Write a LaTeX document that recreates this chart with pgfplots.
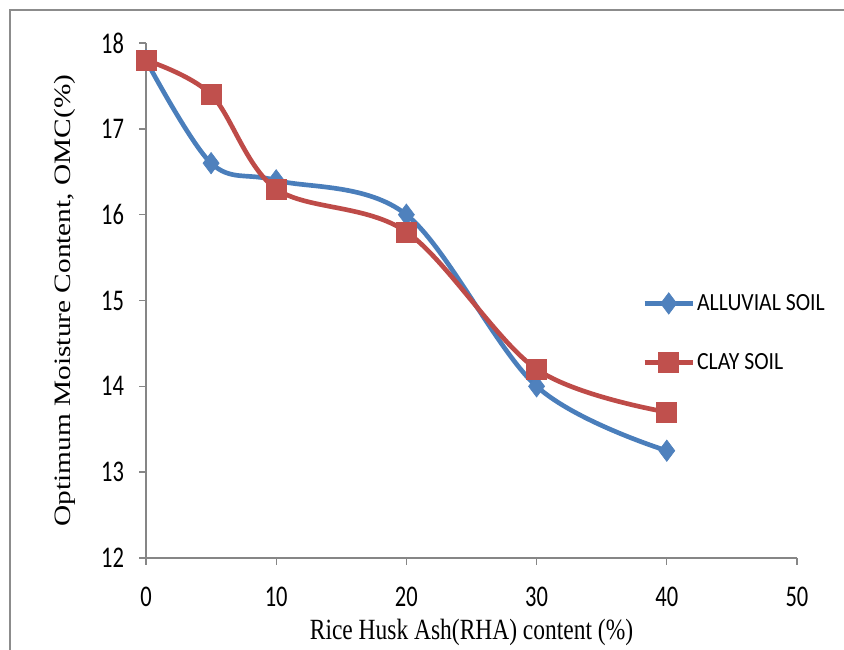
\documentclass[border=0pt]{standalone}
\usepackage{pgfplots}
\pgfplotsset{compat=1.18}
\usepackage{fontspec}
\setmainfont{Liberation Serif}
\newfontfamily\calfont{Carlito}
\newcommand{\sq}[1]{\scalebox{0.8}[1]{#1}}
\newcommand{\tq}[1]{\scalebox{0.75}[1]{#1}}
\definecolor{axgray}{HTML}{868686}
\definecolor{frgray}{HTML}{8C8C8C}
\definecolor{bline}{HTML}{4A7EBB}
\definecolor{bfill}{HTML}{4F81BD}
\definecolor{rline}{HTML}{BE4B48}
\definecolor{rfill}{HTML}{C0504D}
\begin{document}
\begin{tikzpicture}
\useasboundingbox (-109.5pt,-69pt) rectangle (523.5pt,418.5pt);
\begin{scope}
\clip (-109.5pt,-69pt) rectangle (523.5pt,418.5pt);
\draw[frgray, line width=2pt] (-102pt,-80pt) -- (-102pt,411pt) -- (540pt,411pt);
\end{scope}
\begin{axis}[
  at={(0pt,0pt)}, anchor=south west,
  scale only axis,
  width=488.25pt, height=386.25pt,
  xmin=0, xmax=50, ymin=12, ymax=18,
  xtick={0,10,20,30,40,50},
  ytick={12,13,14,15,16,17,18},
  axis lines=left,
  axis line style={axgray, line width=1pt, -},
  tick align=outside,
  major tick length=5pt,
  tick style={axgray, line width=1pt},
  /pgf/number format/assume math mode=true,
  xticklabel={\tq{\calfont\fontsize{22.5}{27}\selectfont\pgfmathprintnumber{\tick}}},
  yticklabel={\tq{\calfont\fontsize{22.5}{27}\selectfont\pgfmathprintnumber{\tick}}},
  xticklabel style={yshift=-13pt},
  yticklabel style={xshift=-8pt},
  xlabel={\sq{\fontsize{22}{26}\selectfont Rice Husk Ash(RHA) content (\%)}},
  ylabel={\scalebox{1}[0.8]{\fontsize{22}{26}\selectfont Optimum Moisture Content, OMC(\%)}},
  xlabel style={at={(axis description cs:0.5,0)}, anchor=center, yshift=-56pt},
  ylabel style={at={(axis description cs:0,0.5)}, anchor=center, yshift=61pt},
  legend style={draw=none, fill=none, at={(axis cs:38.1,14.62)}, anchor=west,
    inner sep=0pt, row sep=28pt, font=\calfont\fontsize{18.5}{22}\selectfont,
    nodes={inner sep=1.5pt}},
  legend cell align=left,
  legend image code/.code={\draw[mark repeat=2,mark phase=2,#1] plot coordinates {(0cm,0cm) (0.635cm,0cm) (1.27cm,0cm)};},
  clip=false,
]
\addplot[smooth, tension=0.55, bline, line width=3.5pt, mark=diamond*, mark size=8pt,
  mark options={fill=bfill, draw=bfill, line width=0.5pt}]
  coordinates {(0,17.8) (5,16.6) (10,16.4) (20,16.0) (30,14.0) (40,13.25)};
\addlegendentry{\scalebox{0.88}[1]{ALLUVIAL SOIL}}
\addplot[smooth, tension=0.55, rline, line width=3.5pt, mark=square*, mark size=7.5pt,
  mark options={fill=rfill, draw=rfill, line width=0.5pt}]
  coordinates {(0,17.8) (5,17.4) (10,16.3) (20,15.8) (30,14.2) (40,13.7)};
\addlegendentry{\scalebox{0.88}[1]{CLAY SOIL}}
\end{axis}
\end{tikzpicture}
\end{document}
